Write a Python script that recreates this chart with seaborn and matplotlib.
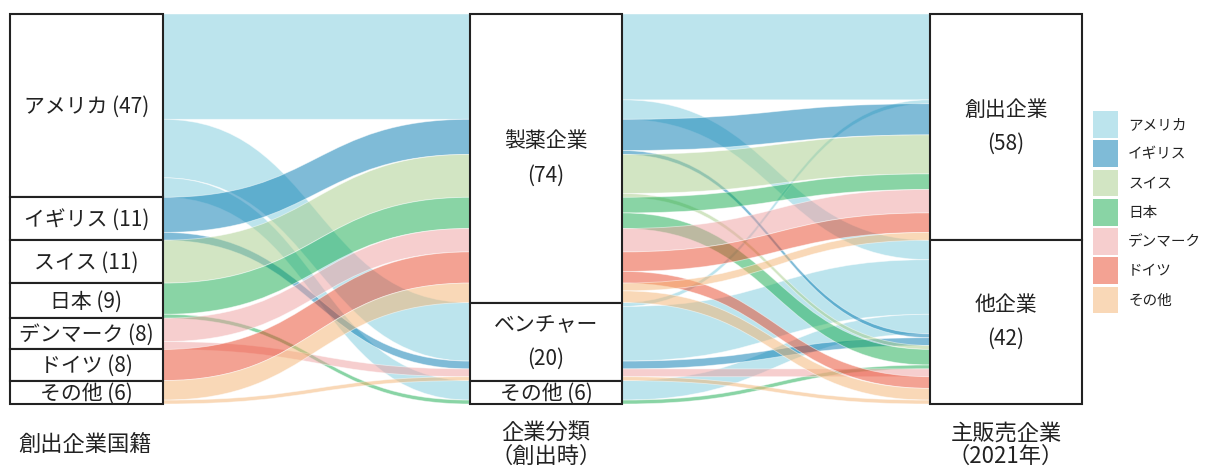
import matplotlib
matplotlib.use("Agg")
import matplotlib.pyplot as plt
from matplotlib.path import Path
from matplotlib.patches import PathPatch, Rectangle, Patch
import seaborn as sns

# ---------------- data ----------------
countries = ["アメリカ", "イギリス", "スイス", "日本", "デンマーク", "ドイツ", "その他"]
country_colors = ["#7bcbdd", "#0179b1", "#a7cd89", "#15ab4d", "#ef9f9f", "#e94729", "#f5b371"]
categories = ["製薬企業", "ベンチャー", "その他"]      # 企業分類（創出時）
sellers = ["創出企業", "他企業"]                      # 主販売企業（2021年）

# rows: 製薬企業, ベンチャー, その他 ; cols: 創出企業, 他企業
flows_america = [[22, 5], [1, 14], [0, 5]]
flows_uk = [[8, 1], [0, 2], [0, 0]]
flows_swiss = [[10, 1], [0, 0], [0, 0]]
flows_japan = [[4, 4], [0, 0], [0, 1]]
flows_denmark = [[6, 0], [0, 2], [0, 0]]
flows_germany = [[5, 3], [0, 0], [0, 0]]
flows_other = [[2, 3], [0, 1], [0, 0]]
flows = [flows_america, flows_uk, flows_swiss, flows_japan,
         flows_denmark, flows_germany, flows_other]

axis_titles = ["創出企業国籍", "企業分類\n（創出時）", "主販売企業\n（2021年）"]

# ---------------- style ----------------
sns.set_theme(style="white")
plt.rcParams["font.family"] = ["Noto Sans CJK JP", "DejaVu Sans"]
palette = sns.color_palette(country_colors)
ALPHA = 0.5
TXT = "#222222"
FS_NODE = 15
FS_TITLE = 16

fig = plt.figure(figsize=(12.05, 4.66), dpi=100)
ax = fig.add_axes([0, 0, 1, 1])
ax.set_xlim(0, 1205)
ax.set_ylim(466, 0)
ax.axis("off")

TOP, BOTTOM = 14, 404
cols_x = [(10, 163), (470, 622), (930, 1082)]

nC, nM, nS = len(countries), len(categories), len(sellers)
country_tot = [sum(sum(r) for r in flows[c]) for c in range(nC)]
cat_tot = [sum(sum(flows[c][m]) for c in range(nC)) for m in range(nM)]
sel_tot = [sum(flows[c][m][s] for c in range(nC) for m in range(nM)) for s in range(nS)]
total = sum(country_tot)
k = (BOTTOM - TOP) / total


def stack(tots):
    pos, y = [], TOP
    for t in tots:
        pos.append(y)
        y += t * k
    return pos


left_y = stack(country_tot)
mid_y = stack(cat_tot)
right_y = stack(sel_tot)


def band(x0, x1, y0, y1, h, color):
    xm = (x0 + x1) / 2
    verts = [(x0, y0), (xm, y0), (xm, y1), (x1, y1),
             (x1, y1 + h),
             (xm, y1 + h), (xm, y0 + h), (x0, y0 + h),
             (x0, y0)]
    codes = [Path.MOVETO, Path.CURVE4, Path.CURVE4, Path.CURVE4,
             Path.LINETO,
             Path.CURVE4, Path.CURVE4, Path.CURVE4,
             Path.CLOSEPOLY]
    ax.add_patch(PathPatch(Path(verts, codes), facecolor=color, alpha=ALPHA,
                           edgecolor="white", lw=0.6, zorder=1))


# left -> middle (one band per country & category)
mid_in = [mid_y[m] for m in range(nM)]
for c in range(nC):
    off = left_y[c]
    for m in range(nM):
        v = sum(flows[c][m])
        if v == 0:
            continue
        h = v * k
        band(cols_x[0][1], cols_x[1][0], off, mid_in[m], h, palette[c])
        off += h
        mid_in[m] += h

# middle -> right (one band per country, category & seller)
mid_out = [mid_y[m] for m in range(nM)]
right_in_pos = {}
roff = [right_y[s] for s in range(nS)]
for s in range(nS):
    for c in range(nC):
        for m in range(nM):
            v = flows[c][m][s]
            if v:
                right_in_pos[(c, m, s)] = roff[s]
                roff[s] += v * k
for c in range(nC):
    for m in range(nM):
        for s in range(nS):
            v = flows[c][m][s]
            if v == 0:
                continue
            h = v * k
            band(cols_x[1][1], cols_x[2][0], mid_out[m], right_in_pos[(c, m, s)], h, palette[c])
            mid_out[m] += h


def node(col, y, val, name, two_line):
    x0, x1 = cols_x[col]
    h = val * k
    ax.add_patch(Rectangle((x0, y), x1 - x0, h, facecolor="white",
                           edgecolor=TXT, lw=1.5, zorder=3))
    cx, cy = (x0 + x1) / 2, y + h / 2
    if two_line:
        ax.text(cx, cy - 17, name, ha="center", va="center", fontsize=FS_NODE, color=TXT, zorder=4)
        ax.text(cx, cy + 17, f"({val})", ha="center", va="center", fontsize=FS_NODE, color=TXT, zorder=4)
    else:
        ax.text(cx, cy + 1, f"{name} ({val})", ha="center", va="center", fontsize=FS_NODE,
                color=TXT, zorder=4)


for c in range(nC):
    node(0, left_y[c], country_tot[c], countries[c], False)
for m in range(nM):
    node(1, mid_y[m], cat_tot[m], categories[m], cat_tot[m] >= 15)
for s in range(nS):
    node(2, right_y[s], sel_tot[s], sellers[s], True)

# column titles
ax.text(18, 444, axis_titles[0], ha="left", va="center", fontsize=FS_TITLE, color=TXT)
for i in (1, 2):
    cx = (cols_x[i][0] + cols_x[i][1]) / 2
    l1, l2 = axis_titles[i].split("\n")
    ax.text(cx, 433, l1, ha="center", va="center", fontsize=FS_TITLE, color=TXT)
    ax.text(cx, 456, l2, ha="center", va="center", fontsize=FS_TITLE, color=TXT)

# legend
handles = [Patch(facecolor=palette[c], alpha=ALPHA, edgecolor="none") for c in range(nC)]
ax.legend(handles, countries, loc="upper left", bbox_to_anchor=(1093 / 1205, 1 - 111 / 466),
          frameon=False, fontsize=10.5, handlelength=1.71, handleheight=2.45,
          labelspacing=0.17, handletextpad=0.7, borderaxespad=0, borderpad=0,
          labelcolor=TXT)

fig.savefig("out.png", dpi=100)
